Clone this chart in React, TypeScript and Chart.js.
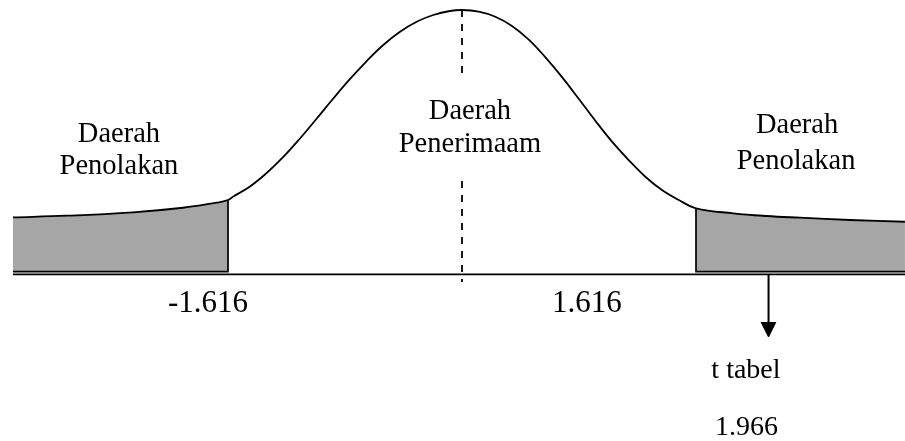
import React, { useEffect, useRef } from "react";
import { Chart, registerables } from "chart.js";

Chart.register(...registerables);

// Curve: z value and relative density
const curveZ = [
  -3.101, -2.728, -2.272, -1.927, -1.692, -1.616, -1.579, -1.464, -1.349,
  -1.234, -1.119, -1.003, -0.889, -0.773, -0.658, -0.544, -0.428, -0.313, -0.198, -0.083,
  0, 0.115, 0.23, 0.345, 0.461, 0.575, 0.691, 0.806, 0.921, 1.036,
  1.151, 1.266, 1.381, 1.497, 1.616, 1.874, 2.104, 2.334, 2.68, 3.059,
];
const curveDensity = [
  0.0859, 0.0883, 0.0935, 0.1004, 0.108, 0.1121, 0.1174, 0.1326, 0.153,
  0.1773, 0.2053, 0.2356, 0.2659, 0.2955, 0.3227, 0.347, 0.3671, 0.3823, 0.3924, 0.3985,
  0.4, 0.3974, 0.3898, 0.3759, 0.3552, 0.3286, 0.2983, 0.2655, 0.2321, 0.2005,
  0.1727, 0.1474, 0.1273, 0.1121, 0.0995, 0.092, 0.0879, 0.0853, 0.0818, 0.0792,
];

const criticalValue = 1.616;
const tTableValue = 1.966;
const regionTitle = "Daerah";
const rejectLabel = "Penolakan";
const acceptLabel = "Penerimaam";
const tTableLabel = "t tabel";

// view range (z units / density units)
const X_MIN = -3.1906;
const X_MAX = 3.0594;
const Y_MIN = -0.25303;
const Y_MAX = 0.41515;
const SHADE_BASE = 0.0035;

type Pt = { x: number; y: number };

const curvePts: Pt[] = curveZ.map((z, i) => ({ x: z, y: curveDensity[i] }));
const leftTail = curvePts.filter((p) => p.x <= -criticalValue + 1e-9);
const rightTail = curvePts.filter((p) => p.x >= criticalValue - 1e-9);

type Label = { text: string; x: number; y: number; size: number };
const labels: Label[] = [
  { text: regionTitle, x: -2.369, y: 0.2, size: 28.5 },
  { text: rejectLabel, x: -2.369, y: 0.1515, size: 28.5 },
  { text: regionTitle, x: 0.055, y: 0.2348, size: 28.5 },
  { text: acceptLabel, x: 0.055, y: 0.1848, size: 28.5 },
  { text: regionTitle, x: 2.314, y: 0.2136, size: 28.5 },
  { text: rejectLabel, x: 2.307, y: 0.1591, size: 28.5 },
  { text: (-criticalValue).toFixed(3), x: -1.754, y: -0.0576, size: 31 },
  { text: criticalValue.toFixed(3), x: 0.863, y: -0.0576, size: 31 },
  { text: tTableLabel, x: 1.961, y: -0.1576, size: 28 },
  { text: tTableValue.toFixed(3), x: 1.965, y: -0.2439, size: 28 },
];

const textPlugin = {
  id: "textLabels",
  afterDatasetsDraw(chart: any) {
    const { ctx, scales } = chart;
    ctx.save();
    ctx.fillStyle = "#000";
    ctx.textAlign = "center";
    ctx.textBaseline = "alphabetic";
    labels.forEach((l) => {
      ctx.font = `${l.size}px "Liberation Serif", "Times New Roman", serif`;
      ctx.fillText(l.text, scales.x.getPixelForValue(l.x), scales.y.getPixelForValue(l.y));
    });
    ctx.restore();
  },
};

const straight = {
  pointRadius: 0,
  tension: 0,
  fill: false,
  borderColor: "#000",
};

export default function App() {
  const ref = useRef<HTMLCanvasElement | null>(null);

  useEffect(() => {
    if (!ref.current) return;
    const lastL = leftTail[leftTail.length - 1];
    const firstR = rightTail[0];
    const arrowX = 2.117;
    const chart = new Chart(ref.current, {
      type: "line",
      data: {
        datasets: [
          // shaded tails
          {
            data: leftTail,
            borderWidth: 0,
            borderColor: "rgba(0,0,0,0)",
            pointRadius: 0,
            tension: 0.4,
            backgroundColor: "#a6a6a6",
            fill: { value: SHADE_BASE },
            order: 10,
          },
          {
            data: rightTail,
            borderWidth: 0,
            borderColor: "rgba(0,0,0,0)",
            pointRadius: 0,
            tension: 0.4,
            backgroundColor: "#a6a6a6",
            fill: { value: SHADE_BASE },
            order: 10,
          },
          // tail outlines
          {
            ...straight,
            data: [
              { x: curveZ[0], y: SHADE_BASE },
              { x: lastL.x, y: SHADE_BASE },
              { x: lastL.x, y: lastL.y },
            ],
            borderWidth: 1.7,
            order: 5,
          },
          {
            ...straight,
            data: [
              { x: firstR.x, y: firstR.y },
              { x: firstR.x, y: SHADE_BASE },
              { x: X_MAX, y: SHADE_BASE },
            ],
            borderWidth: 1.7,
            order: 5,
          },
          // main curve
          {
            data: curvePts,
            borderColor: "#000",
            borderWidth: 1.8,
            pointRadius: 0,
            tension: 0.4,
            fill: false,
            order: 1,
          },
          // horizontal axis
          {
            ...straight,
            data: [
              { x: curveZ[0], y: -0.0005 },
              { x: X_MAX, y: -0.0005 },
            ],
            borderWidth: 1.8,
            order: 2,
          },
          // dashed centre line (upper part)
          {
            ...straight,
            data: [
              { x: 0, y: 0.4 },
              { x: 0, y: 0.2939 },
            ],
            borderWidth: 1.8,
            borderDash: [7, 7],
            order: 2,
          },
          // dashed centre line (lower part)
          {
            ...straight,
            data: [
              { x: 0, y: 0.1409 },
              { x: 0, y: -0.0121 },
            ],
            borderWidth: 1.8,
            borderDash: [7, 7],
            order: 2,
          },
          // arrow shaft
          {
            ...straight,
            data: [
              { x: arrowX, y: 0 },
              { x: arrowX, y: -0.0742 },
            ],
            borderWidth: 2,
            order: 2,
          },
          // arrow head
          {
            ...straight,
            data: [
              { x: 2.065, y: -0.0727 },
              { x: arrowX, y: -0.0955 },
              { x: 2.168, y: -0.0727 },
            ],
            borderWidth: 1,
            backgroundColor: "#000",
            fill: { value: -0.0727 },
            order: 2,
          },
        ],
      },
      options: {
        animation: false,
        responsive: false,
        devicePixelRatio: 1,
        layout: { padding: 0 },
        events: [],
        plugins: {
          legend: { display: false },
          tooltip: { enabled: false },
          title: { display: false },
        },
        scales: {
          x: { type: "linear", display: false, min: X_MIN, max: X_MAX },
          y: { type: "linear", display: false, min: Y_MIN, max: Y_MAX },
        },
      },
      plugins: [textPlugin],
    } as any);
    return () => chart.destroy();
  }, []);

  return (
    <div style={{ position: "fixed", left: 0, top: 0, width: 905, height: 441, background: "#fff" }}>
      <canvas ref={ref} width={905} height={441} style={{ display: "block" }} />
    </div>
  );
}
